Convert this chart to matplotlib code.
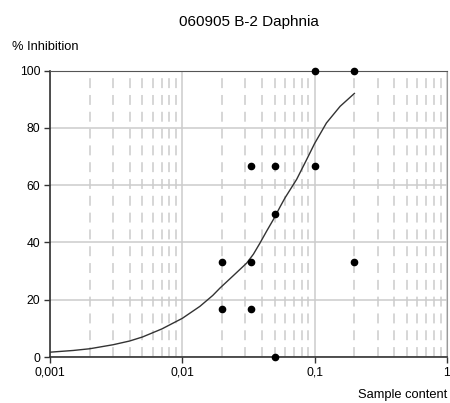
import matplotlib
matplotlib.use("Agg")
import matplotlib.pyplot as plt
from matplotlib.ticker import FixedLocator, NullFormatter

plt.rcParams["font.family"] = ["Liberation Sans", "DejaVu Sans"]

# measured points
conc = [0.1, 0.2, 0.0333, 0.05, 0.1, 0.05, 0.02, 0.0333, 0.2, 0.02, 0.0333, 0.05]
inhib = [100, 100, 66.7, 66.7, 66.7, 50, 33.3, 33.3, 33.3, 16.7, 16.7, 0]

# fitted curve
fit_x = [0.001, 0.0015, 0.002, 0.003, 0.004, 0.005, 0.007, 0.01, 0.0136,
         0.017, 0.0193, 0.0243, 0.0307, 0.0345, 0.0387, 0.0435, 0.0487,
         0.055, 0.0597, 0.0732, 0.0871, 0.1, 0.123, 0.156, 0.2]
fit_y = [1.7, 2.3, 2.9, 4.3, 5.6, 7.0, 9.8, 13.5, 17.7,
         21.5, 24.1, 28.4, 32.8, 35.9, 39.8, 44.0, 47.9,
         52.5, 55.5, 62.0, 68.9, 74.5, 81.7, 87.5, 92.0]

x_ticks = [0.001, 0.01, 0.1, 1]
x_labels = ["0,001", "0,01", "0,1", "1"]
y_ticks = [0, 20, 40, 60, 80, 100]

fig = plt.figure(figsize=(4.5, 4.03), dpi=100)
ax = fig.add_axes([0.111, 0.114, 0.882, 0.711])

ax.set_xscale("log")
ax.set_xlim(0.001, 1)
ax.set_ylim(0, 100)

minor = [m * 10.0 ** e for e in (-3, -2, -1) for m in range(2, 10)]
ax.xaxis.set_minor_locator(FixedLocator(minor))
ax.xaxis.set_minor_formatter(NullFormatter())
ax.set_xticks(x_ticks)
ax.set_xticklabels(x_labels)
ax.set_yticks(y_ticks)

ax.grid(which="major", color="#cccccc", lw=1.1, ls="-")
ax.grid(which="minor", axis="x", color="#cccccc", lw=1.1, ls=(0, (6.5, 4.5)))
ax.set_axisbelow(True)

ax.plot(fit_x, fit_y, color="#333333", lw=1.0, solid_joinstyle="round")
ax.plot(conc, inhib, "o", color="black", ms=4.5, clip_on=False, zorder=5)

for side in ("left", "bottom"):
    ax.spines[side].set_color("#333333")
    ax.spines[side].set_linewidth(1.2)
ax.spines["top"].set_color("#555555")
ax.spines["right"].set_color("#999999")

ax.tick_params(which="major", direction="out", length=4, width=1,
               color="#333333", labelsize=8.7, pad=3)
ax.tick_params(which="minor", length=0)

fig.text(0.553, 0.945, "060905 B-2 Daphnia", ha="center", va="center", fontsize=11)
fig.text(0.027, 0.883, "% Inhibition", ha="left", va="center", fontsize=9.3)
fig.text(0.995, 0.02, "Sample content", ha="right", va="center", fontsize=9.3)

fig.savefig("out.png", dpi=100)
